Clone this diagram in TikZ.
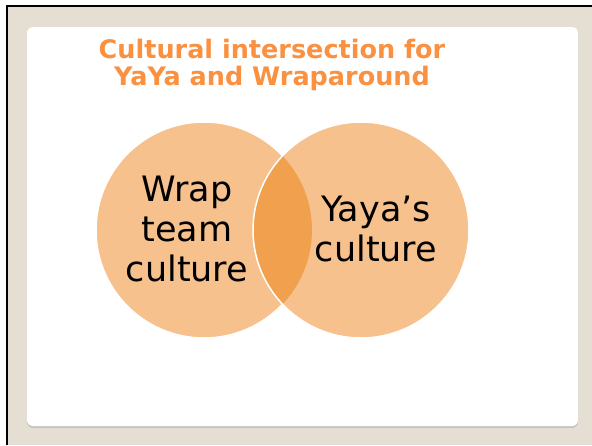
\documentclass[tikz,border=0pt]{standalone}
\usepackage{fontspec}
\setmainfont{DejaVu Sans}
\definecolor{beige}{RGB}{228,222,211}
\definecolor{titleorange}{RGB}{250,145,65}
\definecolor{lightor}{RGB}{247,193,142}
\definecolor{darkor}{RGB}{241,161,77}
\definecolor{shadowgray}{RGB}{200,196,190}
\tikzset{
  venn/.style={circle, minimum size=216pt, inner sep=0pt},
  label35/.style={align=center, font=\fontsize{35}{40}\selectfont, text=black, inner sep=0pt},
  titlestyle/.style={align=center, font=\fontsize{25.5}{27}\selectfont\bfseries, text=titleorange, inner sep=0pt}
}
\begin{document}
\begin{tikzpicture}[x=1pt,y=-1pt]
\useasboundingbox (0,0) rectangle (592,445);
\fill[white] (0,0) rectangle (592,445);
\fill[beige] (6,6) rectangle (592,445);
\draw[black, line width=2pt] (7,445) -- (7,6) -- (592,6);
\fill[shadowgray, rounded corners=6pt] (27,29) rectangle (578,428);
\fill[white, rounded corners=6pt] (27,27) rectangle (578,426);
% circles
\node[venn, fill=lightor, draw=white, line width=1.5pt] (L) at (204,230) {};
\node[venn, fill=lightor] (R) at (361,230) {};
\begin{scope}
  \clip (204,230) circle (108pt);
  \fill[darkor] (361,230) circle (108pt);
\end{scope}
\node[venn, draw=white, line width=1.5pt] (Rs) at (361,230) {};
\node[label35] (wt) at (187,229) {Wrap\\team\\culture};
\node[label35] (yc) at (376,229) {Yaya’s\\culture};
\node[titlestyle] (title) at (272,65) {Cultural intersection for\\YaYa and Wraparound};
\end{tikzpicture}
\end{document}
